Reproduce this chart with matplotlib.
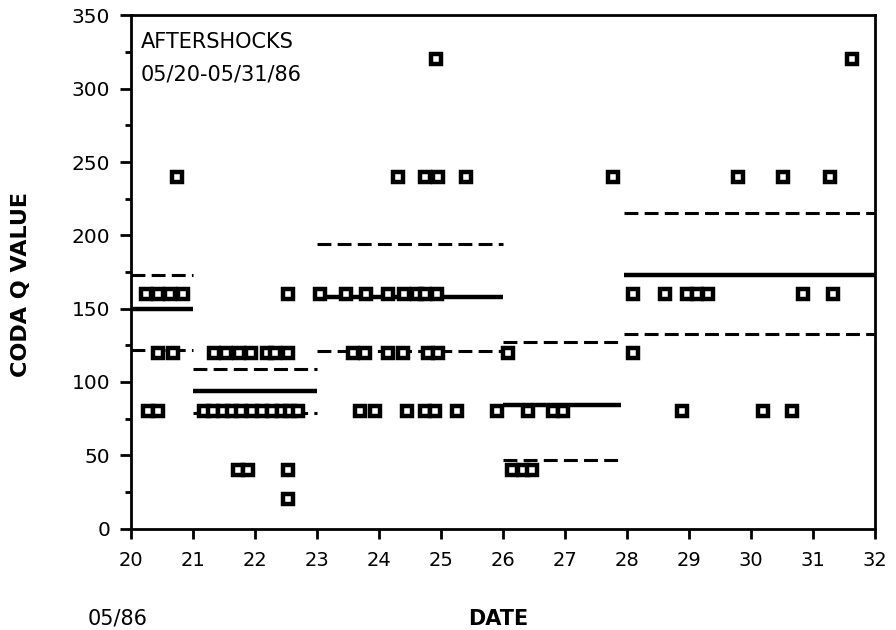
import matplotlib
matplotlib.use("Agg")
import matplotlib.pyplot as plt
from matplotlib.ticker import MultipleLocator

plt.rcParams['font.family'] = ['DejaVu Sans']
plt.rcParams['lines.scale_dashes'] = False

# ---- data: individual coda Q measurements (day of May 1986, Q value) ----
day = [
    # 20-21
    20.24, 20.44, 20.63, 20.84, 20.44, 20.68, 20.27, 20.44, 20.74,
    # 21-23
    21.34, 21.53, 21.74, 21.94, 22.19, 22.32, 22.53,
    21.18, 21.33, 21.48, 21.63, 21.78, 21.95, 22.12, 22.28, 22.43, 22.56, 22.69,
    21.73, 21.89, 22.53, 22.53, 22.53,
    # 23-26
    23.05, 23.47, 23.79, 24.15, 24.40, 24.61, 24.74, 24.94,
    23.58, 23.77, 24.15, 24.39, 24.79, 24.95,
    23.69, 23.94, 24.45, 24.74, 24.90, 25.26, 25.90,
    24.31, 24.74, 24.95, 25.40, 24.92,
    # 26-28
    26.08, 26.40, 26.80, 26.97, 26.15, 26.32, 26.47, 27.77,
    # 28-32
    28.10, 28.61, 28.97, 29.13, 29.30, 30.84, 31.32,
    28.10, 28.88, 30.19, 30.66, 29.79, 30.52, 31.27, 31.63,
]
coda_q = [
    160, 160, 160, 160, 120, 120, 80, 80, 240,
    120, 120, 120, 120, 120, 120, 120,
    80, 80, 80, 80, 80, 80, 80, 80, 80, 80, 80,
    40, 40, 40, 20, 160,
    160, 160, 160, 160, 160, 160, 160, 160,
    120, 120, 120, 120, 120, 120,
    80, 80, 80, 80, 80, 80, 80,
    240, 240, 240, 240, 320,
    120, 80, 80, 80, 40, 40, 40, 240,
    160, 160, 160, 160, 160, 160, 160,
    120, 80, 80, 80, 240, 240, 240, 320,
]

# ---- period averages (mean) with upper / lower bounds ----
seg_start = [20.0, 21.0, 23.0, 26.0, 27.95]
seg_end = [21.0, 23.0, 26.0, 27.9, 32.0]
q_upper = [173, 109, 194, 127, 215]
q_mean = [150, 94, 158, 84, 173]
q_lower = [122, 79, 121, 47, 133]

fig = plt.figure(figsize=(8.96, 6.3), dpi=100)
ax = fig.add_axes([0.1462, 0.1611, 0.8304, 0.8143])

for x0, x1, up, mn, lo in zip(seg_start, seg_end, q_upper, q_mean, q_lower):
    ax.plot([x0, x1], [up, up], color='black', lw=2.2, dashes=(10, 4.5),
            solid_capstyle='butt', zorder=2)
    ax.plot([x0, x1], [lo, lo], color='black', lw=2.2, dashes=(10, 4.5),
            solid_capstyle='butt', zorder=2)
    ax.plot([x0, x1], [mn, mn], color='black', lw=3.2,
            solid_capstyle='butt', zorder=2)

ax.plot(day, coda_q, linestyle='none', marker='s', markersize=6.5,
        markerfacecolor='white', markeredgecolor='black',
        markeredgewidth=3.2, zorder=3)

ax.set_xlim(20, 32)
ax.set_ylim(0, 350)
ax.xaxis.set_major_locator(MultipleLocator(1))
ax.yaxis.set_major_locator(MultipleLocator(50))
ax.yaxis.set_minor_locator(MultipleLocator(25))
ax.tick_params(axis='x', which='major', direction='out', length=7, width=2,
               pad=9, labelsize=14)
ax.tick_params(axis='y', which='major', direction='out', length=8, width=2,
               pad=7, labelsize=14.5)
ax.tick_params(axis='y', which='minor', direction='out', length=4, width=2)
for s in ax.spines.values():
    s.set_linewidth(2)

fig.text(141 / 896, 1 - 48 / 630, 'AFTERSHOCKS', fontsize=15,
         ha='left', va='baseline')
fig.text(141 / 896, 1 - 80 / 630, '05/20-05/31/86', fontsize=15,
         ha='left', va='baseline')

fig.text(21 / 896, 1 - 285 / 630, 'CODA Q VALUE', fontsize=16,
         fontweight='bold', rotation=90, ha='center', va='center')
fig.text(498 / 896, 1 - 619 / 630, 'DATE', fontsize=15,
         fontweight='bold', ha='center', va='center')
fig.text(118 / 896, 1 - 619 / 630, '05/86', fontsize=15,
         ha='center', va='center')

fig.savefig('out.png', dpi=100)
